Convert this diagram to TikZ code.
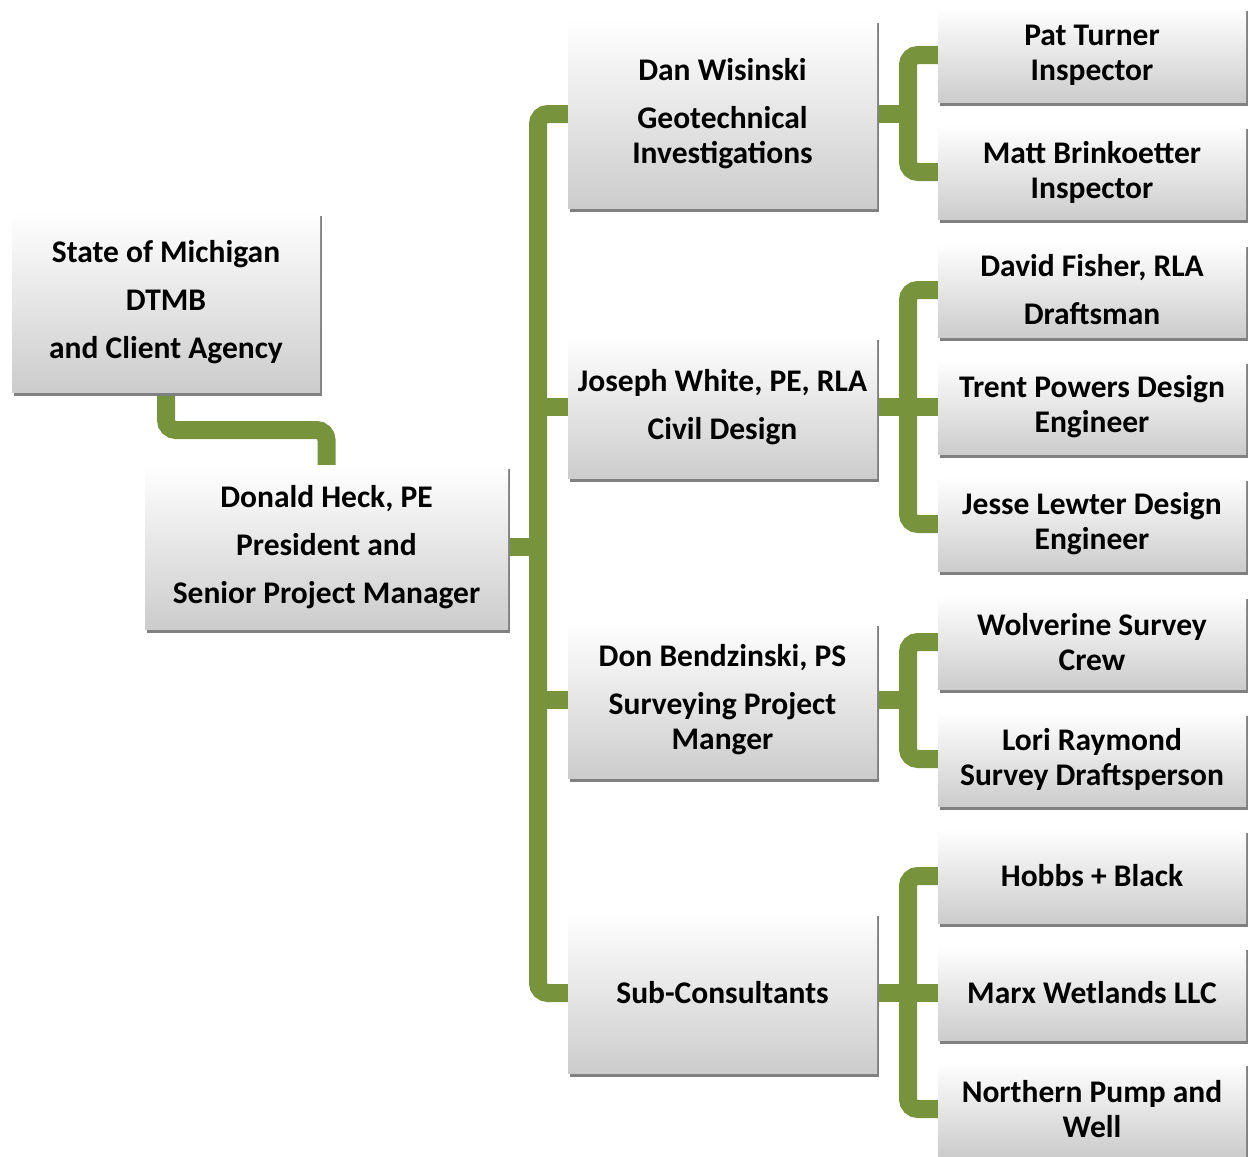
\documentclass[tikz,border=0pt]{standalone}
\usepackage{fontspec}
\setmainfont{Carlito}
\usetikzlibrary{shadows,backgrounds}
\definecolor{connc}{HTML}{77933C}
\tikzset{
  box/.style={rectangle, top color=white, bottom color=black!20, draw=none,
    align=center, font=\fontsize{31.5}{35}\selectfont\bfseries, inner sep=0pt,
    drop shadow={shadow xshift=1.5pt, shadow yshift=-3.5pt, fill=black!50, opacity=1}},
  mid/.style={box, minimum width=309pt},
  leaf/.style={box, minimum width=308pt, minimum height=94pt},
  conn/.style={draw=connc, line width=18pt, rounded corners=10pt},
}
\begin{document}
\begin{tikzpicture}[x=1pt, y=-1pt]
\useasboundingbox (0,0) rectangle (1249,1156);
\node[box, minimum width=308pt, minimum height=180pt] (state) at (166,302) {State of Michigan\\[13pt]DTMB\\[13pt]and Client Agency};
\node[box, minimum width=363pt, minimum height=164pt] (donald) at (326.5,547) {Donald Heck, PE\\[13pt]President and\\[13pt]Senior Project Manager};
\node[mid, minimum height=188pt] (dan) at (722.5,114) {Dan Wisinski\\[13pt]Geotechnical\\Investigations};
\node[mid, minimum height=142pt] (joseph) at (722.5,407) {Joseph White, PE, RLA\\[13pt]Civil Design};
\node[mid, minimum height=156pt] (don) at (722.5,700) {Don Bendzinski, PS\\[13pt]Surveying Project\\Manger};
\node[mid, minimum height=161pt] (sub) at (722.5,993) {Sub-Consultants};
\node[leaf] (pat) at (1092,55) {Pat Turner\\Inspector};
\node[leaf] (matt) at (1092,172) {Matt Brinkoetter\\Inspector};
\node[leaf] (david) at (1092,290) {David Fisher, RLA\\[13pt]Draftsman};
\node[leaf] (trent) at (1092,407) {Trent Powers Design\\Engineer};
\node[leaf] (jesse) at (1092,524) {Jesse Lewter Design\\Engineer};
\node[leaf] (wolv) at (1092,642) {Wolverine Survey\\Crew};
\node[leaf] (lori) at (1092,759) {Lori Raymond\\Survey Draftsperson};
\node[leaf] (hobbs) at (1092,876) {Hobbs + Black};
\node[leaf] (marx) at (1092,993) {Marx Wetlands LLC};
\node[leaf] (north) at (1092,1109) {Northern Pump and\\Well};
\coordinate (k) at (326.5,430);
\coordinate (t) at (538,547);
\begin{pgfonlayer}{background}
\draw[conn] (state.south) |- (k) -- (donald.north);
\draw[conn] (dan.west) -| (t) |- (sub.west);
\draw[conn] (donald.east) -- (t);
\draw[conn] (joseph.west) -- (538,407);
\draw[conn] (don.west) -- (538,700);
\draw[conn] (pat.west) -| (908,114) |- (matt.west);
\draw[conn] (dan.east) -- (908,114);
\draw[conn] (david.west) -| (908,407) |- (jesse.west);
\draw[conn] (joseph.east) -- (908,407);
\draw[conn] (trent.west) -- (908,407);
\draw[conn] (wolv.west) -| (908,700) |- (lori.west);
\draw[conn] (don.east) -- (908,700);
\draw[conn] (hobbs.west) -| (908,993) |- (north.west);
\draw[conn] (sub.east) -- (908,993);
\draw[conn] (marx.west) -- (908,993);
\end{pgfonlayer}
\end{tikzpicture}
\end{document}
